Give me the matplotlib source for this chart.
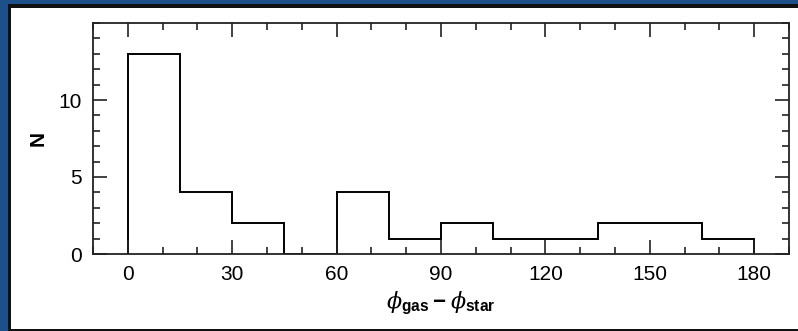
import matplotlib.pyplot as plt
from matplotlib.patches import Rectangle
from matplotlib.ticker import MultipleLocator

plt.rcParams["font.family"] = ["Liberation Sans", "DejaVu Sans"]
plt.rcParams["mathtext.fontset"] = "custom"
plt.rcParams["mathtext.rm"] = "Liberation Sans:bold"
plt.rcParams["mathtext.it"] = "DejaVu Serif:italic"

# histogram of phi_gas - phi_star, 15 degree bins
bin_edges = [0, 15, 30, 45, 60, 75, 90, 105, 120, 135, 150, 165, 180]
counts = [13, 4, 2, 0, 4, 1, 2, 1, 1, 2, 2, 1]
xticks = [0, 30, 60, 90, 120, 150, 180]
yticks = [0, 5, 10]

fig = plt.figure(figsize=(7.98, 3.31), dpi=100)

# slide-style frame: blue edge, black rule, white panel
W, H = 798, 331
fig.patches.append(Rectangle((0, 0), 1, 1, transform=fig.transFigure,
                             facecolor="#1d4f8b", edgecolor="none", zorder=-3))
fig.patches.append(Rectangle((8 / W, 0), 1, 1 - 4 / H, transform=fig.transFigure,
                             facecolor="#111111", edgecolor="none", zorder=-2))
fig.patches.append(Rectangle((11 / W, 2 / H), 1, 1 - 10 / H, transform=fig.transFigure,
                             facecolor="white", edgecolor="none", zorder=-1))

ax = fig.add_axes([93 / W, 77 / H, 696 / W, 231 / H])
ax.stairs(counts, bin_edges, color="black", linewidth=1.4)

ax.set_xlim(-10, 190)
ax.set_ylim(0, 15)
ax.set_xticks(xticks)
ax.set_yticks(yticks)
ax.xaxis.set_minor_locator(MultipleLocator(10))
ax.yaxis.set_minor_locator(MultipleLocator(1))
ax.tick_params(which="both", direction="in", top=True, right=True,
               width=1.2, color="#222222")
ax.tick_params(which="major", length=10, labelsize=15, pad=8)
ax.tick_params(which="minor", length=5)
for s in ax.spines.values():
    s.set_linewidth(1.3)
    s.set_color("#222222")

ax.set_xlabel(r"$\phi_{\rm gas}-\phi_{\rm star}$", fontsize=16, labelpad=4)
ax.set_ylabel("N", fontsize=15, fontweight="bold", labelpad=8)

fig.savefig("out.png", dpi=100)
